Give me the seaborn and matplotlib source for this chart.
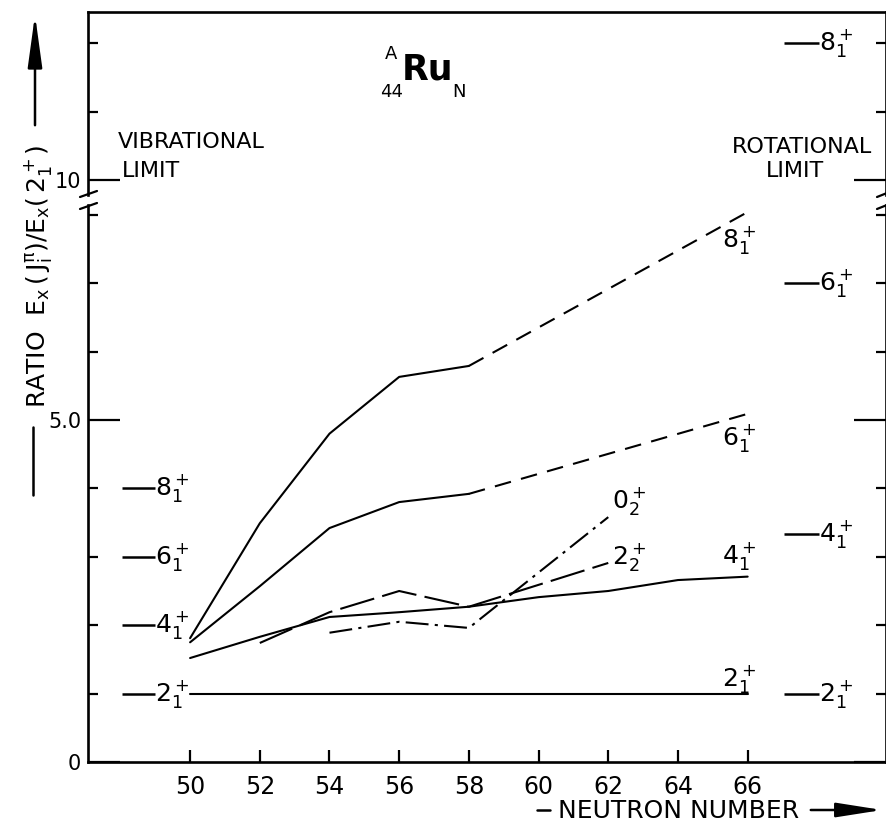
import pandas as pd
import seaborn as sns
import matplotlib.pyplot as plt
import matplotlib.patches as mpatches
from matplotlib.lines import Line2D

# neutron numbers and ratios E(J)/E(2_1+)
n_all = [50, 52, 54, 56, 58, 60, 62, 64, 66]
r21 = [1.0, 1.0, 1.0, 1.0, 1.0, 1.0, 1.0, 1.0, 1.0]
r41 = [1.52, 1.83, 2.12, 2.19, 2.27, 2.41, 2.50, 2.66, 2.71]
n_yrast = [50, 52, 54, 56, 58]
r61 = [1.75, 2.57, 3.42, 3.80, 3.92]
r81 = [1.81, 3.49, 4.80, 5.63, 5.79]
n_ext = [58, 66]
r61_ext = [3.92, 5.09]
r81_ext = [5.79, 8.04]
n_22 = [52, 54, 56, 58, 60, 62]
r22 = [1.74, 2.19, 2.50, 2.27, 2.59, 2.91]
n_02 = [54, 56, 58, 60, 62]
r02 = [1.89, 2.05, 1.96, 2.77, 3.58]

# limits
limit_names = ['2', '4', '6', '8']
vib_levels = [1, 2, 3, 4]
rot_levels = [1, 10 / 3, 7, 12]

x_ticks = [50, 52, 54, 56, 58, 60, 62, 64, 66]

sns.set_style('white')
plt.rcParams['font.family'] = ['DejaVu Sans']
plt.rcParams['mathtext.default'] = 'regular'
for k in ('text.color', 'axes.labelcolor', 'xtick.color', 'ytick.color', 'axes.edgecolor'):
    plt.rcParams[k] = 'black'

W, H = 887, 831
def fx(x):
    return x / W
def fy(y):
    return 1 - y / H

fig = plt.figure(figsize=(8.87, 8.31), dpi=100)
ax_lo = fig.add_axes([fx(88), fy(762), (886 - 88) / W, (762 - 205) / H])
ax_hi = fig.add_axes([fx(88), fy(195), (886 - 88) / W, (195 - 12) / H])

for ax in (ax_lo, ax_hi):
    ax.set_xlim(47.07, 69.97)
    for s in ax.spines.values():
        s.set_linewidth(1.9)
        s.set_color('black')
ax_lo.set_ylim(0, 8.143)
ax_hi.set_ylim(9.781, 12.456)
ax_lo.spines['top'].set_visible(False)
ax_hi.spines['bottom'].set_visible(False)

# data lines
lw = 1.5
def line(x, y, ls='-'):
    sns.lineplot(x=x, y=y, ax=ax_lo, color='black', lw=lw, linestyle=ls,
                 estimator=None, sort=False, errorbar=None, legend=False)

line(n_all, r21)
line(n_all, r41)
line(n_yrast, r61)
line(n_yrast, r81)
line(n_ext, r61_ext, (0, (8, 5)))
line(n_ext, r81_ext, (0, (8, 5)))
line(n_22, r22, (0, (17, 4)))
line(n_02, r02, (0, (11, 3, 1.5, 3)))

# state labels next to the curves
fs_lab = 18
curve_labels = [(r'$8_1^+$', 65.75, 7.63), (r'$6_1^+$', 65.75, 4.74),
                (r'$0_2^+$', 62.6, 3.82), (r'$2_2^+$', 62.6, 3.0),
                (r'$4_1^+$', 65.75, 3.01), (r'$2_1^+$', 65.75, 1.21)]
for t, x, y in curve_labels:
    ax_lo.text(x, y, t, ha='center', va='center', fontsize=fs_lab)

# vibrational and rotational limit levels
for name, v, r in zip(limit_names, vib_levels, rot_levels):
    ax_lo.hlines(v, 48.05, 48.99, color='black', lw=1.8)
    ax_lo.text(49.5, v, r'$%s_1^+$' % name, ha='center', va='center', fontsize=fs_lab)
    axr = ax_hi if r > 9 else ax_lo
    axr.hlines(r, 67.04, 68.05, color='black', lw=1.8)
    axr.text(68.55, r, r'$%s_1^+$' % name, ha='center', va='center', fontsize=fs_lab)

# ticks
for ax in (ax_lo, ax_hi):
    ax.tick_params(axis='y', which='both', direction='in', left=True, right=True,
                   width=1.6, labelsize=15, pad=5, color='black')
    ax.tick_params(axis='y', which='major', length=23)
    ax.tick_params(axis='y', which='minor', length=7)
ax_lo.set_yticks([0, 5])
ax_lo.set_yticklabels(['0', '5.0'])
ax_lo.set_yticks([1, 2, 3, 4, 6, 7, 8], minor=True)
ax_hi.set_yticks([10])
ax_hi.set_yticklabels(['10'])
ax_hi.set_yticks([11, 12], minor=True)

ax_lo.set_xticks(x_ticks)
ax_lo.set_xticklabels([str(v) for v in x_ticks])
ax_lo.tick_params(axis='x', direction='in', bottom=True, length=9, width=1.6,
                  labelsize=17, pad=9)
ax_hi.tick_params(axis='x', bottom=False, labelbottom=False)
ax_hi.set_xticks([])
ax_lo.set_xlabel('')
ax_lo.set_ylabel('')

# axis break marks
for (x0, x1) in [(80, 97), (877, 892)]:
    for y0 in (197, 209):
        fig.add_artist(Line2D([fx(x0), fx(x1)], [fy(y0), fy(y0 - 6)], color='black',
                              lw=1.6, transform=fig.transFigure))

# title  A/44 Ru N
fig.text(fx(402), fy(80), 'Ru', fontsize=25, fontweight='bold', ha='left', va='baseline')
fig.text(fx(391), fy(59), 'A', fontsize=13, ha='center', va='baseline')
fig.text(fx(392), fy(97), '44', fontsize=13, ha='center', va='baseline')
fig.text(fx(459), fy(97), 'N', fontsize=13, ha='center', va='baseline')

fig.text(fx(118), fy(148), 'VIBRATIONAL', fontsize=16, ha='left', va='baseline')
fig.text(fx(122), fy(177), 'LIMIT', fontsize=16, ha='left', va='baseline')
fig.text(fx(802), fy(153), 'ROTATIONAL', fontsize=16, ha='center', va='baseline')
fig.text(fx(795), fy(177), 'LIMIT', fontsize=16, ha='center', va='baseline')

# y label with dash and arrow
fig.text(fx(38), fy(276), r'RATIO  $E_x\,(\,J_i^{\pi})/E_x(\,2_1^+)$', rotation=90,
         fontsize=18, ha='center', va='center')
fig.add_artist(Line2D([fx(33), fx(33)], [fy(427), fy(495)], color='black', lw=1.8,
                      transform=fig.transFigure))
fig.add_artist(mpatches.FancyArrowPatch((fx(35), fy(128)), (fx(35), fy(12)),
                                        transform=fig.transFigure,
                                        arrowstyle='-|>,head_length=1.6,head_width=0.22',
                                        mutation_scale=20, lw=1.8, color='black'))

# x label with dash and arrow
fig.add_artist(Line2D([fx(537), fx(550)], [fy(810), fy(810)], color='black', lw=1.8,
                      transform=fig.transFigure))
fig.text(fx(558), fy(818), 'NEUTRON NUMBER', fontsize=18, ha='left', va='baseline')
fig.add_artist(mpatches.FancyArrowPatch((fx(808), fy(810)), (fx(885), fy(810)),
                                        transform=fig.transFigure,
                                        arrowstyle='-|>,head_length=1.4,head_width=0.22',
                                        mutation_scale=20, lw=1.8, color='black'))

plt.savefig('out.png', dpi=100)
